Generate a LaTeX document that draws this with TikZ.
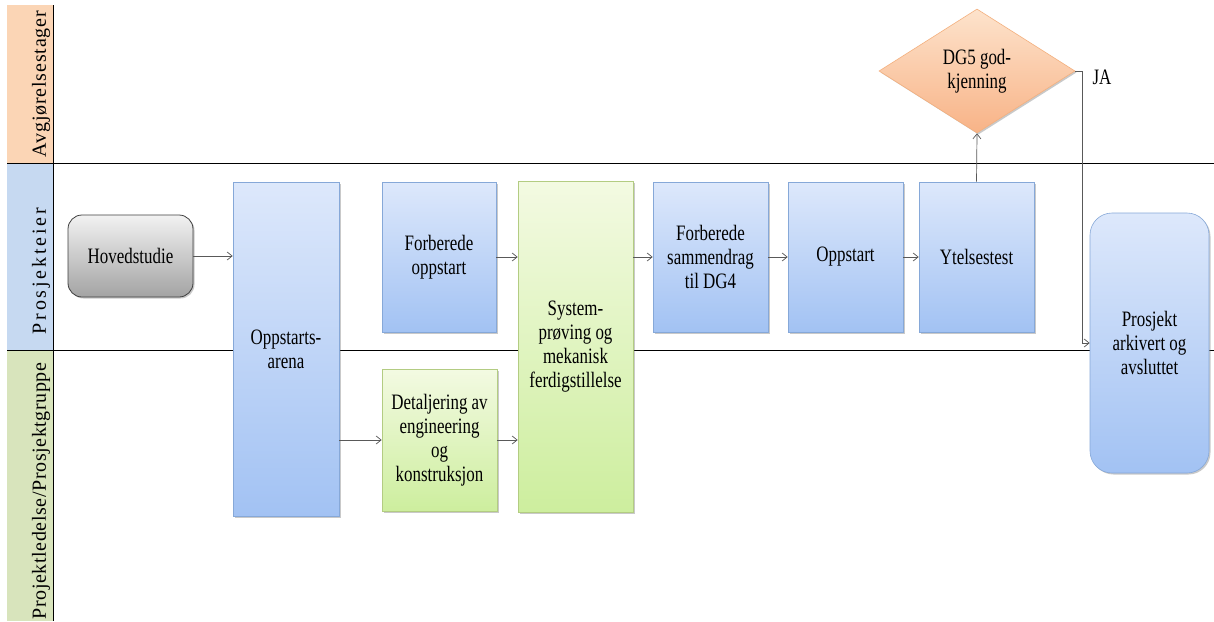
\documentclass[tikz,border=0pt]{standalone}
\usepackage{fontspec}
\setmainfont{Liberation Serif}
\newfontfamily\tallserif[FakeStretch=0.77]{Liberation Serif}
\usetikzlibrary{shapes.geometric,arrows.meta,shadows}

\definecolor{laneorange}{HTML}{FBD5B5}
\definecolor{laneblue}{HTML}{C6D9F1}
\definecolor{lanegreen}{HTML}{D8E4BC}
\definecolor{bluetop}{HTML}{DDE8FB}
\definecolor{bluebot}{HTML}{A2C2F3}
\definecolor{blueedge}{HTML}{86A8D8}
\definecolor{greentop}{HTML}{F3FAE2}
\definecolor{greenbot}{HTML}{CDEE9E}
\definecolor{greenedge}{HTML}{B3CC82}
\definecolor{graytop}{HTML}{F2F2F2}
\definecolor{graybot}{HTML}{A3A3A3}
\definecolor{orangetop}{HTML}{FDE3CC}
\definecolor{orangebot}{HTML}{F8B387}
\definecolor{orangeedge}{HTML}{F4B07E}
\definecolor{flow}{HTML}{595959}

\tikzset{
  boxfont/.style={font=\tallserif\fontsize{22}{24}\selectfont, align=center},
  lanefont/.style={font=\fontsize{20}{24}\selectfont},
  boxshadow/.style={drop shadow={shadow xshift=1.5pt, shadow yshift=-1.5pt, opacity=0.35, fill=black!60}},
  bluebox/.style={boxfont, boxshadow, draw=blueedge, line width=0.6pt,
    top color=bluetop, bottom color=bluebot, inner sep=0pt},
  greenbox/.style={boxfont, boxshadow, draw=greenedge, line width=0.6pt,
    top color=greentop, bottom color=greenbot, inner sep=0pt},
  graybox/.style={boxfont, boxshadow, draw=black!75, line width=0.8pt,
    top color=graytop, bottom color=graybot, inner sep=0pt, rounded corners=14pt},
  decision/.style={boxfont, boxshadow, diamond, draw=orangeedge, line width=0.6pt,
    top color=orangetop, bottom color=orangebot, inner sep=0pt},
  flowarrow/.style={draw=flow, line width=0.7pt, -{Straight Barb[length=5pt,width=8pt]}},
  laneline/.style={draw=black, line width=0.8pt}
}

\begin{document}
\begin{tikzpicture}[x=1pt,y=-1pt]
  \useasboundingbox (0,0) rectangle (1214,621);
  \fill[white] (0,0) rectangle (1214,621);

  % swimlane header column
  \fill[laneorange] (7,5) rectangle (53,163);
  \fill[laneblue] (7,163) rectangle (53,350);
  \fill[lanegreen] (7,350) rectangle (53,621);
  \draw[laneline] (53,5) -- (53,621);
  \draw[laneline] (7,163) -- (1214,163);
  \draw[laneline] (7,350) -- (1214,350);

  \node[lanefont, rotate=90] (laneA) at (41,84) {\addfontfeature{LetterSpace=4}Avgjørelsestager};
  \node[lanefont, rotate=90] (laneB) at (41,271) {\addfontfeature{LetterSpace=14}Prosjekteier};
  \node[lanefont, rotate=90] (laneC) at (41,491) {\addfontfeature{LetterSpace=3}Projektledelse/Prosjektgruppe};

  % process steps
  \node[graybox, minimum width=125pt, minimum height=82pt] (hov) at (130.5,256) {Hovedstudie};
  \node[bluebox, minimum width=106pt, minimum height=334pt] (opp) at (286,349) {Oppstarts-\\arena};
  \node[bluebox, minimum width=114pt, minimum height=150pt] (forb) at (439,257) {Forberede\\oppstart};
  \node[greenbox, minimum width=115pt, minimum height=142pt] (det) at (439.5,440) {Detaljering av\\engineering\\og\\konstruksjon};
  \node[greenbox, minimum width=115pt, minimum height=331pt] (sys) at (575.5,346.5) {System-\\prøving og\\mekanisk\\ferdigstillelse};
  \node[bluebox, minimum width=115pt, minimum height=150pt] (sam) at (710.5,257) {Forberede\\sammendrag\\til DG4};
  \node[bluebox, minimum width=115pt, minimum height=150pt] (ops) at (845.5,257) {Oppstart};
  \node[bluebox, minimum width=115pt, minimum height=150pt] (ytl) at (976.5,257) {Ytelsestest};
  \node[decision, minimum width=196pt, minimum height=124pt, shape aspect=1.58] (dg5) at (977,71) {DG5 god-\\kjenning};
  \node[bluebox, rounded corners=22pt, minimum width=119pt, minimum height=260pt] (prj) at (1149.5,343) {Prosjekt\\arkivert og\\avsluttet};

  \node[boxfont, anchor=west] (ja) at (1089,77) {JA};
  \coordinate (jabend) at (1082,71);

  % flow
  \draw[flowarrow] (hov.east) -- (opp.west |- hov.east);
  \draw[flowarrow] (opp.east |- det.west) -- (det.west);
  \draw[flowarrow] (forb.east) -- (sys.west |- forb.east);
  \draw[flowarrow] (det.east) -- (sys.west |- det.east);
  \draw[flowarrow] (sys.east |- sam.west) -- (sam.west);
  \draw[flowarrow] (sam.east) -- (ops.west);
  \draw[flowarrow] (ops.east) -- (ytl.west);
  \draw[flowarrow] (ytl.north) -- (dg5.south);
  \draw[flowarrow] (dg5.east) -- (jabend) |- (prj.west);
\end{tikzpicture}
\end{document}
